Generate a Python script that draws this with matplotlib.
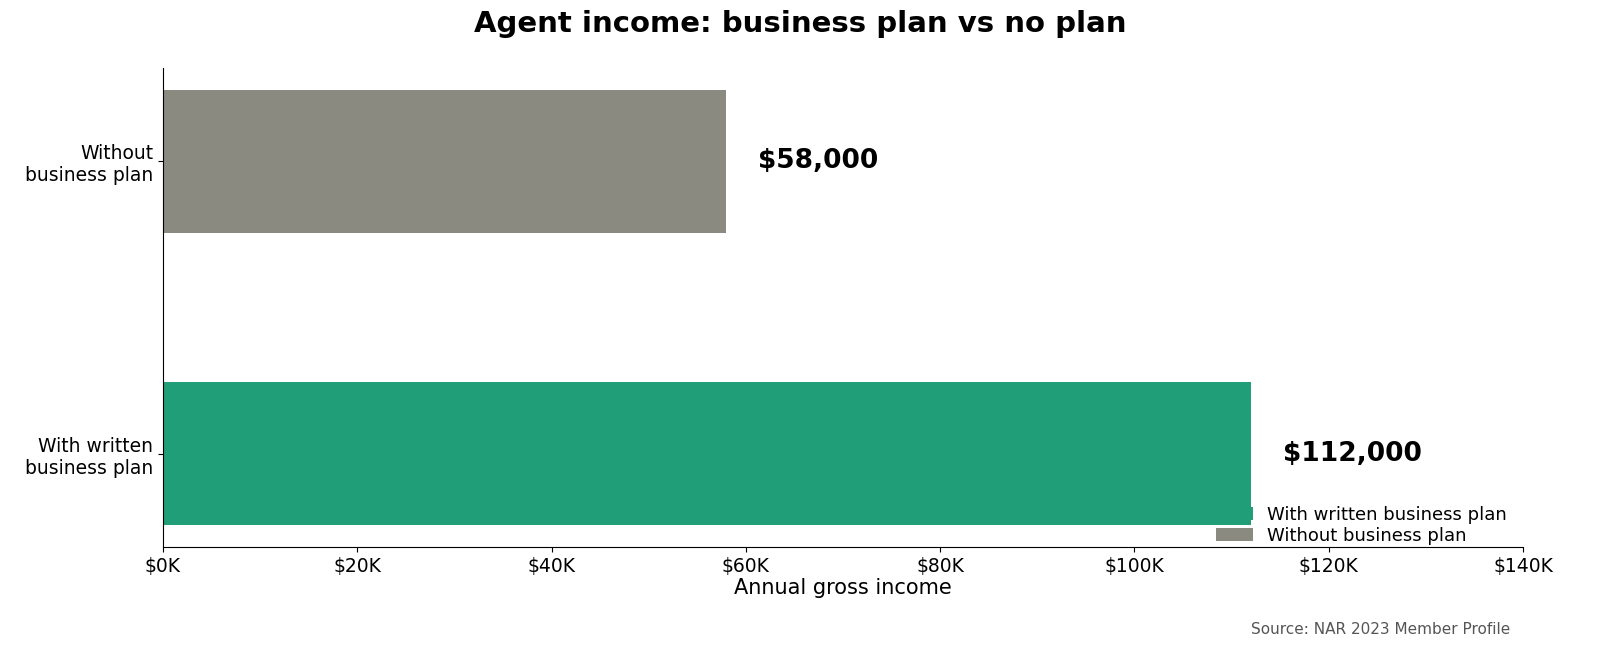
import matplotlib.pyplot as plt
from matplotlib.ticker import FuncFormatter

categories = ['With written\nbusiness plan', 'Without\nbusiness plan']
incomes = [112000, 58000]
colors = ['#1f9e77', '#8a8a80']
labels = ['$112,000', '$58,000']
legend_names = ['With written business plan', 'Without business plan']

fig = plt.figure(figsize=(16, 6.62), dpi=100)
ax = fig.add_axes([163/1600, 1-547/662, 1360/1600, 479/662])

bars = ax.barh(categories, incomes, color=colors, height=0.49)
for b, name in zip(bars, legend_names):
    b.set_label(name)
for b, txt in zip(bars, labels):
    ax.text(b.get_width() + 3300, b.get_y() + b.get_height() / 2 + 0.0, txt,
            va='center', ha='left', fontsize=19, fontweight='bold')

ax.set_xlim(0, 140000)
ax.set_ylim(-0.32, 1.32)
ax.xaxis.set_major_formatter(FuncFormatter(lambda v, p: f'${v/1000:.0f}K'))
ax.tick_params(axis='x', labelsize=13.5)
ax.tick_params(axis='y', labelsize=13.5)
ax.set_xlabel('Annual gross income', fontsize=15, labelpad=2)
ax.spines['top'].set_visible(False)
ax.spines['right'].set_visible(False)
ax.legend(loc='lower right', frameon=False, fontsize=13,
          bbox_to_anchor=(1.0, -0.03), handlelength=2, labelspacing=0.2)

fig.suptitle('Agent income: business plan vs no plan', fontsize=21,
             fontweight='bold', y=0.985)
fig.text(1510/1600, 1-630/662, 'Source: NAR 2023 Member Profile', ha='right',
         va='center', fontsize=11, color='#555555')

fig.savefig('out.png', dpi=100)
